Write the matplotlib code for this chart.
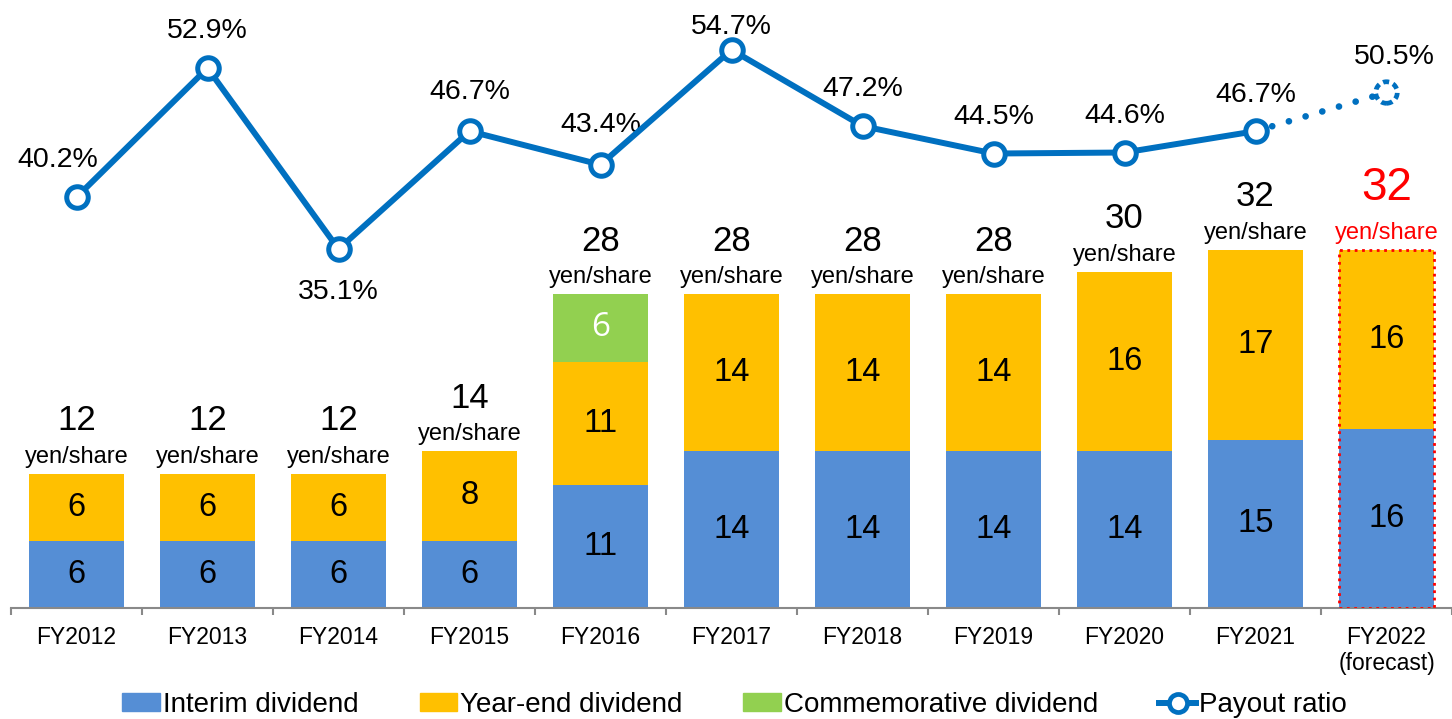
import matplotlib
matplotlib.use("Agg")
import matplotlib.pyplot as plt
from matplotlib.lines import Line2D
import matplotlib.patches as mpatches
import numpy as np

plt.rcParams["font.family"] = ["Liberation Sans", "DejaVu Sans"]

# --- data ---
years = ["FY2012", "FY2013", "FY2014", "FY2015", "FY2016", "FY2017",
         "FY2018", "FY2019", "FY2020", "FY2021", "FY2022\n(forecast)"]
interim = [6, 6, 6, 6, 11, 14, 14, 14, 14, 15, 16]
year_end = [6, 6, 6, 8, 11, 14, 14, 14, 16, 17, 16]
commem = [0, 0, 0, 0, 6, 0, 0, 0, 0, 0, 0]
payout = [40.2, 52.9, 35.1, 46.7, 43.4, 54.7, 47.2, 44.5, 44.6, 46.7, 50.5]

C_INT = "#558ED5"
C_YE = "#FFC000"
C_COM = "#92D050"
C_LINE = "#0070C0"
C_AX = "#898989"

x = np.arange(len(years))
interim = np.array(interim)
year_end = np.array(year_end)
commem = np.array(commem)
totals = interim + year_end + commem

fig = plt.figure(figsize=(14.52, 7.19), dpi=100)
ax = fig.add_axes([11 / 1452, 1 - 608 / 719, 1 - 11 / 1452, 608 / 719])
W = 0.72

ax.bar(x, interim, W, color=C_INT, zorder=2)
ax.bar(x, year_end, W, bottom=interim, color=C_YE, zorder=2)
ax.bar(x, commem, W, bottom=interim + year_end, color=C_COM, zorder=2)
# forecast outline
ax.bar(x[-1:], totals[-1:], W, fill=False, edgecolor="red", linestyle=":",
       linewidth=2, zorder=3)

for i in range(len(x)):
    ax.text(x[i], interim[i] / 2, str(interim[i]), ha="center", va="center",
            fontsize=23.5, zorder=4)
    ax.text(x[i], interim[i] + year_end[i] / 2, str(year_end[i]), ha="center",
            va="center", fontsize=23.5, zorder=4)
    if commem[i]:
        ax.text(x[i], interim[i] + year_end[i] + commem[i] / 2, str(commem[i]),
                ha="center", va="center", fontsize=24, color="white",
                family=["Open Sans", "DejaVu Sans"], zorder=4)
    last = i == len(x) - 1
    col = "red" if last else "black"
    ax.annotate("yen/share", (x[i], totals[i]), xytext=(0, 17),
                textcoords="offset pixels", ha="center", va="center",
                fontsize=17, color=col)
    ax.annotate(str(totals[i]), (x[i], totals[i]), xytext=(0, 62 if last else 53),
                textcoords="offset pixels", ha="center", va="center",
                fontsize=33 if last else 25, color=col)

ax.set_xlim(-0.5, len(x) - 0.5)
ax.set_ylim(0, 608 / 11.2)
ax.set_yticks([])
for s in ["left", "right", "top"]:
    ax.spines[s].set_visible(False)
ax.spines["bottom"].set_color(C_AX)
ax.spines["bottom"].set_linewidth(1.5)
ax.set_xticks(x)
ax.set_xticklabels(years, fontsize=16.5, linespacing=1.15)
ax.set_xticks(np.arange(-0.5, len(x)), minor=True)
ax.tick_params(axis="x", which="major", length=0, pad=13)
ax.tick_params(axis="x", which="minor", length=5, width=1.5, color=C_AX)

# --- payout ratio line ---
ax2 = ax.twinx()
ax2.set_ylim(-0.2, 59.6)
ax2.set_yticks([])
for s in ax2.spines.values():
    s.set_visible(False)

ax2.plot(x[-2:], payout[-2:], color=C_LINE, lw=4.8, linestyle=(0, (0.01, 2.6)),
         dash_capstyle="round", zorder=5)
ax2.plot(x[:-1], payout[:-1], color=C_LINE, lw=4.3, marker="o", ms=15.5,
         mfc="white", mec=C_LINE, mew=3.6, zorder=6)
ax2.scatter(x[-1:], payout[-1:], s=15.5 ** 2, facecolors="white",
            edgecolors=C_LINE, linewidths=3.4, linestyle=(0, (1.3, 0.9)), zorder=7)

lbl_off = [(-19, 37), (0, 37), (0, -43), (0, 39), (0, 40), (0, 23),
           (0, 37), (0, 37), (0, 37), (0, 36), (8, 36)]
for i, v in enumerate(payout):
    ax2.annotate(f"{v:.1f}%", (x[i], v), xytext=lbl_off[i],
                 textcoords="offset pixels", ha="center", va="center", fontsize=20.5)

# --- legend ---
handles = [
    mpatches.Patch(color=C_INT, label="Interim dividend"),
    mpatches.Patch(color=C_YE, label="Year-end dividend"),
    mpatches.Patch(color=C_COM, label="Commemorative dividend"),
    Line2D([0], [0], color=C_LINE, lw=4.3, marker="o", ms=13, mfc="white",
           mec=C_LINE, mew=3.4, label="Payout ratio"),
]
fig.legend(handles=handles, loc="center", bbox_to_anchor=(0.506, 1 - 705 / 719),
           ncol=4, frameon=False, fontsize=20, handlelength=1.35,
           handleheight=0.6, handletextpad=0.1, columnspacing=2.2,
           borderaxespad=0, borderpad=0)

fig.savefig("out.png", dpi=100)
